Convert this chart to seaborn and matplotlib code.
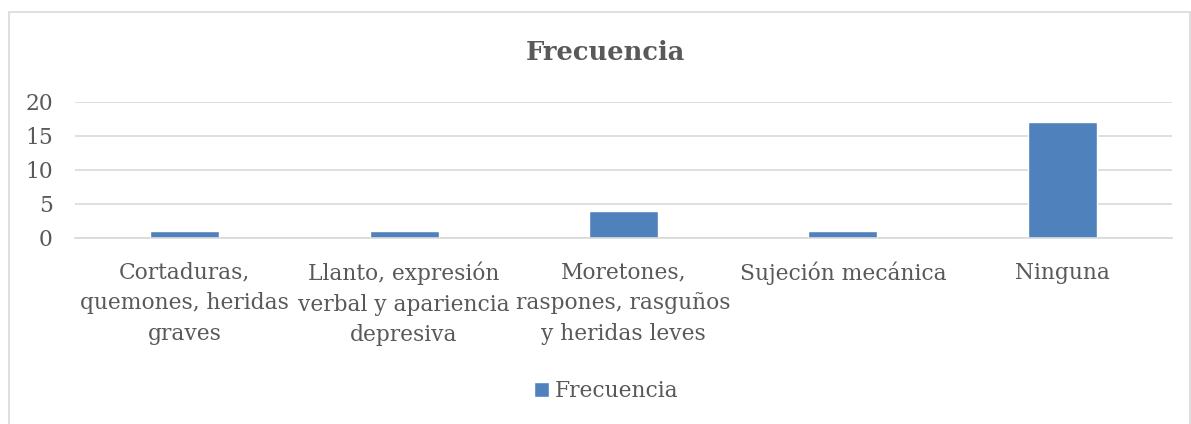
import numpy as np
import pandas as pd
import matplotlib
matplotlib.use('Agg')
import matplotlib.pyplot as plt
import seaborn as sns
from matplotlib.patches import Rectangle

categorias = ['Cortaduras,\nquemones, heridas\ngraves',
              'Llanto, expresión\nverbal y apariencia\ndepresiva',
              'Moretones,\nraspones, rasguños\ny heridas leves',
              'Sujeción mecánica',
              'Ninguna']
frecuencia = [1, 1, 4, 1, 17]
serie = ['Frecuencia'] * len(categorias)

df = pd.DataFrame({'categoria': categorias, 'valor': frecuencia, 'serie': serie})

sns.set_style('white')
plt.rcParams['font.family'] = ['DejaVu Serif']
gris = '#595959'
fs = 15.7

fig = plt.figure(figsize=(11.91, 4.24), dpi=100)
ax = fig.add_axes([0.063, 0.4387, 0.921, 0.3208])

sns.barplot(data=df, x='categoria', y='valor', hue='serie', palette=['#4F81BD'],
            width=0.315, saturation=1, ax=ax)

ax.set_ylim(0, 20)
ax.set_yticks([0, 5, 10, 15, 20])
ax.grid(axis='y', color='#D9D9D9', linewidth=1.2)
ax.set_axisbelow(True)
for s in ['left', 'right', 'top']:
    ax.spines[s].set_visible(False)
ax.spines['bottom'].set_color('#D9D9D9')
ax.spines['bottom'].set_linewidth(1.2)
ax.tick_params(axis='both', length=0, colors=gris, labelsize=fs)
ax.tick_params(axis='y', pad=16)
ax.tick_params(axis='x', pad=17)
for t in ax.get_xticklabels():
    t.set_linespacing(1.51)
ax.set_xlabel('')
ax.set_ylabel('')

ax.legend(loc='center', bbox_to_anchor=(0.509, 0.078), bbox_transform=fig.transFigure,
          frameon=False, fontsize=fs, labelcolor=gris, handlelength=0.69,
          handleheight=0.69, handletextpad=0.3)

fig.text(0.508, 0.875, 'Frecuencia', ha='center', va='center', fontsize=18.5,
         fontweight='bold', color=gris)

fig.patches.append(Rectangle((9 / 1191, -0.01), 1181 / 1191, 1 - 12 / 424 + 0.01,
                             transform=fig.transFigure, fill=False,
                             edgecolor='#D9D9D9', linewidth=1.2))

plt.savefig('out.png', dpi=100)
